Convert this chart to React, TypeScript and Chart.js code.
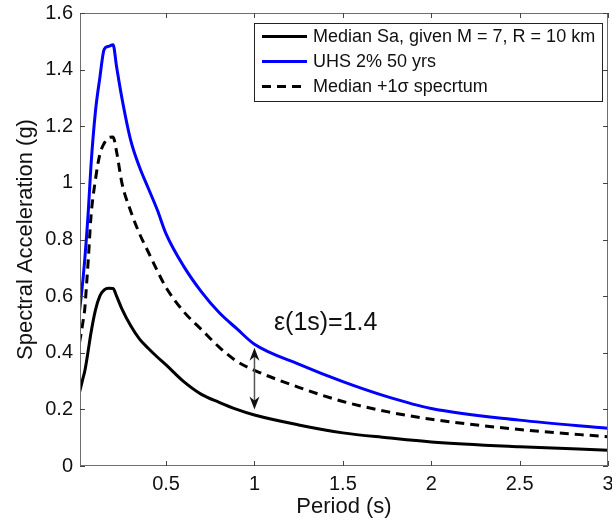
import React, { useEffect, useRef } from "react";
import { Chart, registerables } from "chart.js";

Chart.register(...registerables);

// ---- data ----
const periods = [0.01, 0.02, 0.03, 0.04, 0.05, 0.06, 0.075, 0.1, 0.125, 0.15, 0.175, 0.2, 0.22, 0.25, 0.3, 0.35, 0.4, 0.45, 0.5, 0.6, 0.7, 0.8, 0.9, 1, 1.25, 1.5, 1.75, 2, 2.5, 3];
const medianSa = [0.26, 0.285, 0.31, 0.335, 0.37, 0.41, 0.47, 0.55, 0.6, 0.622, 0.628, 0.627, 0.6, 0.555, 0.495, 0.448, 0.415, 0.385, 0.357, 0.298, 0.253, 0.225, 0.2, 0.18, 0.145, 0.117, 0.1, 0.085, 0.068, 0.056];
const uhsSa = [0.545, 0.6, 0.66, 0.73, 0.81, 0.9, 1.06, 1.25, 1.37, 1.472, 1.482, 1.488, 1.41, 1.3, 1.15, 1.055, 0.98, 0.905, 0.82, 0.705, 0.615, 0.542, 0.485, 0.43, 0.36, 0.298, 0.245, 0.203, 0.162, 0.133];
const medianPlusSigmaSa = [0.435, 0.47, 0.51, 0.555, 0.64, 0.73, 0.88, 1.01, 1.1, 1.14, 1.16, 1.162, 1.11, 1.0, 0.9, 0.82, 0.755, 0.69, 0.63, 0.545, 0.482, 0.42, 0.37, 0.338, 0.278, 0.228, 0.192, 0.165, 0.129, 0.103];

const seriesLabels = ["Median Sa, given M = 7, R = 10 km", "UHS 2% 50 yrs", "Median +1\u03c3 specrtum"];
const xTicks = [0.5, 1, 1.5, 2, 2.5, 3];
const yTicks = [0, 0.2, 0.4, 0.6, 0.8, 1, 1.2, 1.4, 1.6];
const xLabel = "Period (s)";
const yLabel = "Spectral Acceleration (g)";

// annotation (data coordinates)
const arrowPeriod = 1;
const arrowLow = 0.2;
const arrowHigh = 0.418;
const annotationText = "\u03b5(1s)=1.4";
const annotationAt = { x: 1.11, y: 0.503 };

const FONT = "Arial, 'Liberation Sans', Helvetica, sans-serif";

const toPoints = (ys: number[]) => periods.map((p, i) => ({ x: p, y: ys[i] }));

const decorPlugin = {
  id: "decor",
  afterDatasetsDraw(chart: any) {
    const { ctx, chartArea: a, scales } = chart;
    const xs = scales.x;
    const ys = scales.y;
    ctx.save();
    // frame
    ctx.strokeStyle = "#6e6e6e";
    ctx.lineWidth = 1;
    ctx.strokeRect(a.left + 0.5, a.top + 0.5, a.right - a.left - 1, a.bottom - a.top - 1);
    // inward ticks
    const tl = 5;
    ctx.strokeStyle = "#444";
    ctx.beginPath();
    xTicks.forEach((t) => {
      const px = Math.round(xs.getPixelForValue(t)) + 0.5;
      ctx.moveTo(px, a.bottom);
      ctx.lineTo(px, a.bottom - tl);
      ctx.moveTo(px, a.top);
      ctx.lineTo(px, a.top + tl);
    });
    yTicks.forEach((t) => {
      const py = Math.round(ys.getPixelForValue(t)) + 0.5;
      ctx.moveTo(a.left, py);
      ctx.lineTo(a.left + tl, py);
      ctx.moveTo(a.right, py);
      ctx.lineTo(a.right - tl, py);
    });
    ctx.stroke();

    // double arrow
    const ax = xs.getPixelForValue(arrowPeriod);
    const yLow = ys.getPixelForValue(arrowLow);
    const yHigh = ys.getPixelForValue(arrowHigh);
    ctx.strokeStyle = "#555";
    ctx.lineWidth = 1.5;
    ctx.beginPath();
    ctx.moveTo(ax, yHigh + 4);
    ctx.lineTo(ax, yLow - 4);
    ctx.stroke();
    ctx.fillStyle = "#111";
    const head = (tipY: number, dir: number) => {
      ctx.beginPath();
      ctx.moveTo(ax, tipY);
      ctx.lineTo(ax - 5, tipY + dir * 13);
      ctx.lineTo(ax, tipY + dir * 9);
      ctx.lineTo(ax + 5, tipY + dir * 13);
      ctx.closePath();
      ctx.fill();
    };
    head(yHigh, 1);
    head(yLow, -1);

    // annotation text
    ctx.fillStyle = "#111";
    ctx.font = `25px ${FONT}`;
    ctx.textAlign = "left";
    ctx.textBaseline = "middle";
    ctx.fillText(annotationText, xs.getPixelForValue(annotationAt.x), ys.getPixelForValue(annotationAt.y));

    // legend
    const lx = 254, ly = 23, lw = 348, lh = 78;
    ctx.fillStyle = "#fff";
    ctx.fillRect(lx, ly, lw, lh);
    ctx.strokeStyle = "#222";
    ctx.lineWidth = 1;
    ctx.strokeRect(lx + 0.5, ly + 0.5, lw, lh);
    ctx.font = `18px ${FONT}`;
    chart.data.datasets.forEach((ds: any, i: number) => {
      const rowY = ly + 13.5 + i * 25;
      ctx.strokeStyle = ds.borderColor;
      ctx.lineWidth = ds.borderWidth;
      ctx.setLineDash(ds.borderDash || []);
      ctx.beginPath();
      ctx.moveTo(lx + 8, rowY);
      ctx.lineTo(lx + 53, rowY);
      ctx.stroke();
      ctx.setLineDash([]);
      ctx.fillStyle = "#111";
      ctx.fillText(ds.label, lx + 59, rowY + 1);
    });
    ctx.restore();
  },
};

export default function App() {
  const ref = useRef<HTMLCanvasElement | null>(null);
  useEffect(() => {
    if (!ref.current) return;
    const common = { pointRadius: 0, borderWidth: 3, cubicInterpolationMode: "monotone" as const };
    const chart = new Chart(ref.current, {
      type: "line",
      data: {
        datasets: [
          { ...common, label: seriesLabels[0], data: toPoints(medianSa), borderColor: "#000" },
          { ...common, label: seriesLabels[1], data: toPoints(uhsSa), borderColor: "#0000ff" },
          { ...common, label: seriesLabels[2], data: toPoints(medianPlusSigmaSa), borderColor: "#000", borderDash: [9, 6] },
        ],
      },
      options: {
        animation: false,
        responsive: false,
        maintainAspectRatio: false,
        layout: { padding: { left: 0, right: 4, top: 13, bottom: 0 } },
        plugins: { legend: { display: false }, tooltip: { enabled: false } },
        scales: {
          x: {
            type: "linear",
            min: 0.013,
            max: 3,
            grid: { display: false, drawTicks: false },
            border: { display: false },
            afterBuildTicks: (s: any) => {
              s.ticks = xTicks.map((v) => ({ value: v }));
            },
            afterFit: (s: any) => {
              s.height = 56;
              s.paddingLeft = 0;
              s.paddingRight = 0;
            },
            ticks: {
              color: "#111",
              padding: 6,
              maxRotation: 0,
              font: { family: FONT, size: 20 },
              callback: (v: any) => String(v),
            },
            title: {
              display: true,
              text: xLabel,
              color: "#111",
              font: { family: FONT, size: 22 },
              padding: { top: 0, bottom: 2 },
            },
          },
          y: {
            type: "linear",
            min: 0,
            max: 1.6,
            grid: { display: false, drawTicks: false },
            border: { display: false },
            afterBuildTicks: (s: any) => {
              s.ticks = yTicks.map((v) => ({ value: v }));
            },
            afterFit: (s: any) => {
              s.width = 80;
              s.paddingTop = 0;
              s.paddingBottom = 0;
            },
            ticks: {
              color: "#111",
              padding: 7,
              font: { family: FONT, size: 20 },
              callback: (v: any) => String(Math.round(v * 10) / 10),
            },
            title: {
              display: true,
              text: yLabel,
              color: "#111",
              font: { family: FONT, size: 22 },
              padding: { top: 13, bottom: 0 },
            },
          },
        },
      },
      plugins: [decorPlugin],
    });
    return () => chart.destroy();
  }, []);
  return (
    <div style={{ position: "fixed", left: 0, top: 0, width: 612, height: 522, background: "#fff" }}>
      <canvas ref={ref} width={612} height={522} style={{ width: 612, height: 522 }} />
    </div>
  );
}
